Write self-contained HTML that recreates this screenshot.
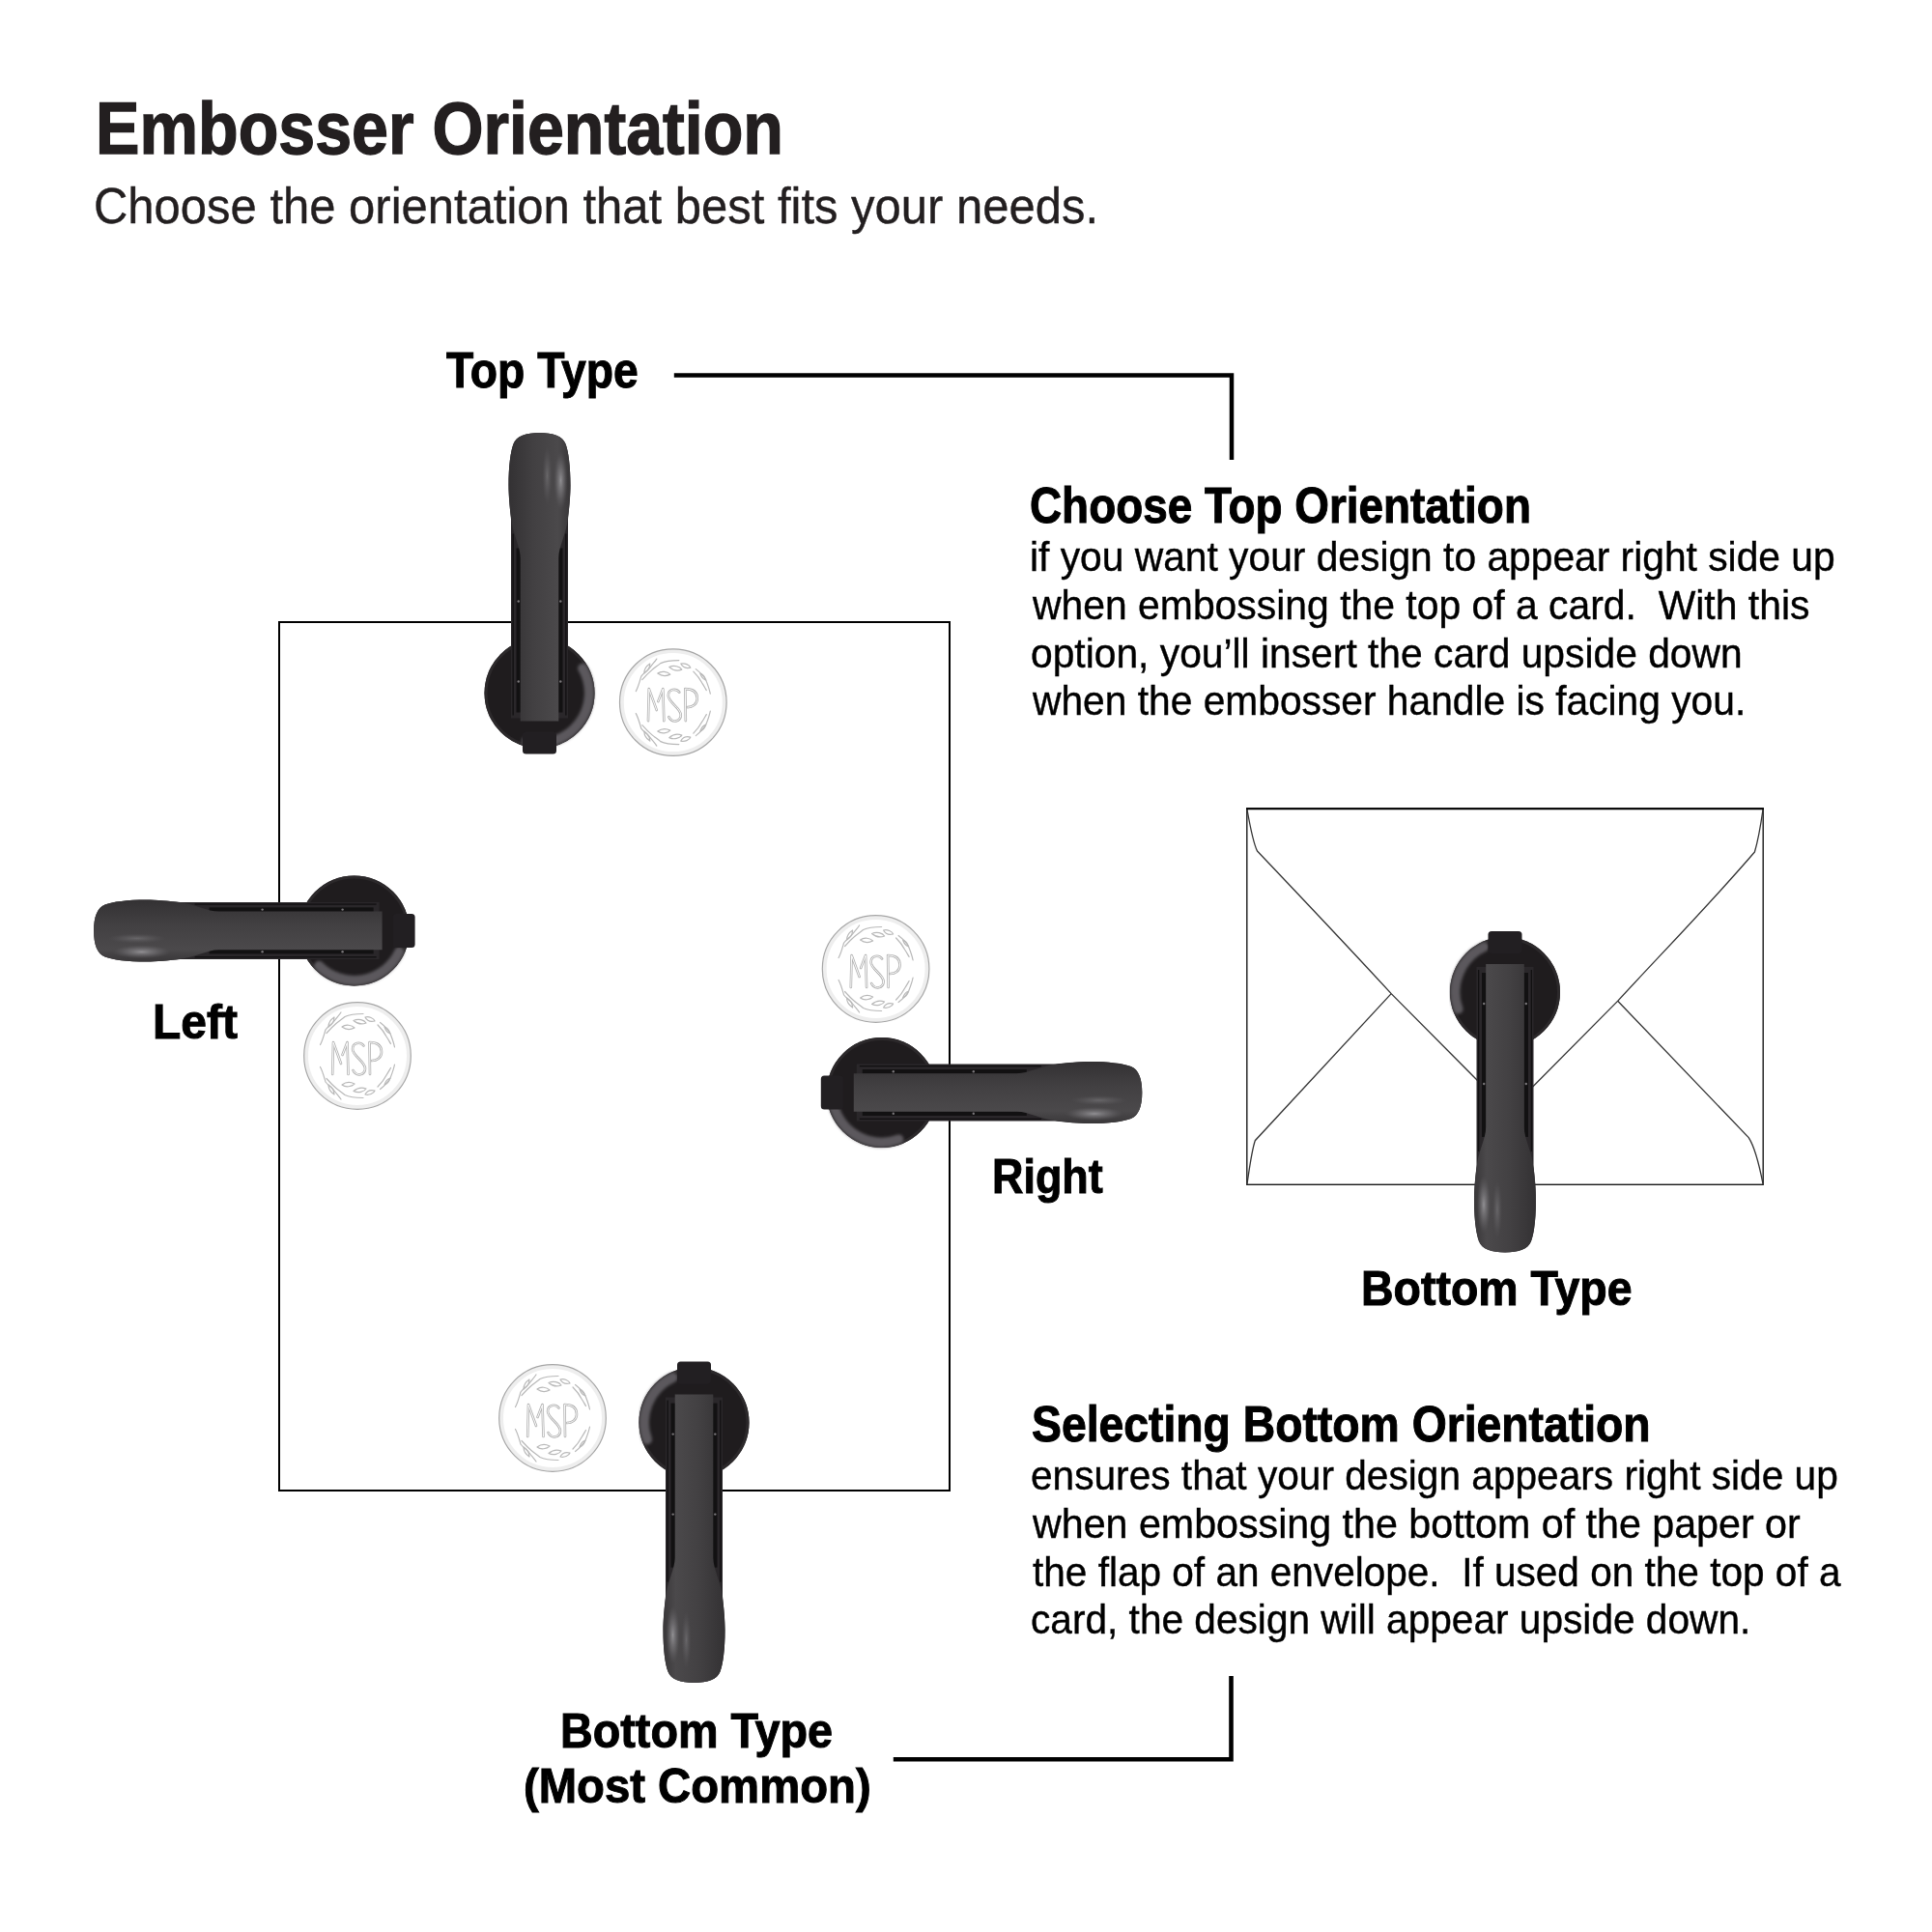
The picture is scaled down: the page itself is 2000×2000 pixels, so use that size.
<!DOCTYPE html>
<html><head><meta charset="utf-8"><style>
html,body{margin:0;padding:0;background:#fff;width:2000px;height:2000px;overflow:hidden}
body{position:relative}
.t{position:absolute;white-space:pre;font-family:"Liberation Sans",sans-serif;transform-origin:0 0}
</style></head><body>

<svg width="2000" height="2000" viewBox="0 0 2000 2000" style="position:absolute;left:0;top:0">
<defs>
<linearGradient id="hg" x1="0" y1="0" x2="1" y2="0">
  <stop offset="0" stop-color="#333133"/>
  <stop offset="0.4" stop-color="#424042"/>
  <stop offset="0.8" stop-color="#4b494b"/>
  <stop offset="1" stop-color="#393739"/>
</linearGradient>
<radialGradient id="hl" cx="0.5" cy="0.5" r="0.5">
  <stop offset="0" stop-color="#b0afb3" stop-opacity="0.7"/>
  <stop offset="0.55" stop-color="#858387" stop-opacity="0.4"/>
  <stop offset="1" stop-color="#6a686c" stop-opacity="0"/>
</radialGradient>
<filter id="soft" x="-20%" y="-20%" width="140%" height="140%"><feGaussianBlur stdDeviation="1.6"/></filter>
<g id="emb">
  <rect x="-17.5" y="40" width="35" height="23" rx="3.5" fill="#221f22"/>
  <path d="M-29.5,26 L-29.5,-180 C-30.5,-190 -32,-205 -32,-215 C-32,-235 -30,-250 -27,-258 C-24,-266 -14,-269.5 0,-269.5 C14,-269.5 24,-266 27,-258 C30,-250 32,-235 32,-215 C32,-205 30.5,-190 29.5,-180 L29.5,26 Z" fill="#2a272a"/>
  <rect x="-24" y="-150" width="4.5" height="170" fill="#121112"/><rect x="-28" y="-165" width="1.3" height="188" fill="#111011"/>
  <rect x="19.5" y="-150" width="4.5" height="170" fill="#121112"/><rect x="26.7" y="-165" width="1.3" height="188" fill="#111011"/>
  <path d="M-19.8,29 L-19.8,-140 C-19.8,-152 -28,-165 -29.5,-182 C-31,-192 -32,-205 -32,-215 C-32,-235 -30,-250 -27,-258 C-24,-266 -14,-269.5 0,-269.5 C14,-269.5 24,-266 27,-258 C30,-250 32,-235 32,-215 C32,-205 31,-192 29.5,-182 C28,-165 19.8,-152 19.8,-140 L19.8,29 Z" fill="url(#hg)"/>
  <ellipse cx="22" cy="-220" rx="7" ry="30" fill="url(#hl)"/>
  <ellipse cx="8" cy="-225" rx="5" ry="30" fill="url(#hl)" opacity="0.45"/>
  <circle cx="-21.8" cy="-95" r="1.2" fill="#7a777a"/>
  <circle cx="21.8" cy="-95" r="1.2" fill="#7a777a"/>
  <circle cx="-21.8" cy="-12" r="1.2" fill="#7a777a"/>
  <circle cx="21.8" cy="-12" r="1.2" fill="#7a777a"/>
</g>

<g id="lt">
  <g fill="none" stroke="#b9b9b9" stroke-width="1.2" stroke-linecap="round" stroke-linejoin="round">
    <path d="M-38.5,-11.5 C-36,-16 -34.5,-22 -33,-27 C-30,-31 -26,-33 -24,-36 C-21,-40 -19,-42 -17,-45"/>
    <path d="M-32,-23.5 C-28,-28 -25,-31 -22,-33.5 C-19,-36 -16,-38 -13,-40.5 C-8,-43 -2,-43.5 6,-43.5"/>
    <path d="M21,-32 C25,-28 28,-24 30,-20 C32,-17 33,-15 34.5,-12.5"/>
    <path d="M23.5,-34.5 C28,-31 32,-27 34,-23 C36,-18 37.5,-14 38.5,-9"/>
    <path d="M-16,-30 C-12,-33 -6,-32 -3,-29 C-7,-27 -12,-27 -16,-30 Z"/>
    <path d="M-4,-36.5 C1,-39 7,-37 9,-34 C4,-32 0,-33 -4,-36.5 Z"/>
    <path d="M8,-40 C12,-41 17,-39 18,-36 C14,-35 10,-36 8,-40 Z"/>
    <path d="M-30,-30 C-30,-34 -27,-38 -24,-40 C-24,-36 -27,-32 -30,-30 Z"/>
    <path d="M28,-30 C31,-29 33,-26 34,-23 C31,-24 29,-27 28,-30 Z"/>
  </g>
</g>
<g id="seal">
  <circle cx="0" cy="0" r="53" fill="none" stroke="#eeeeee" stroke-width="4"/>
  <circle cx="0" cy="0" r="55.3" fill="none" stroke="#a6a6a6" stroke-width="1.2"/>
  <g fill="none" stroke="#b3b3b3" stroke-width="2.6" stroke-linecap="round" stroke-linejoin="round">
    <path d="M-25.8,19 L-25,-14 L-17,8 M-15.5,-1 L-10.5,-14 L-9.5,19"/>
    <path d="M6.5,-10.5 C3,-15 -5,-14 -5,-7 C-5,0 8,6 8,13 C8,20 -1,22 -4.5,15"/>
    <path d="M13,19 L12.5,-14 C21,-14 25,-10 25,-4 C25,2 20,5 15,5"/>
  </g>
  <g fill="none" stroke="#fbfbfb" stroke-width="1" stroke-linecap="round" stroke-linejoin="round">
    <path d="M-25.8,19 L-25,-14 L-17,8 M-15.5,-1 L-10.5,-14 L-9.5,19"/>
    <path d="M6.5,-10.5 C3,-15 -5,-14 -5,-7 C-5,0 8,6 8,13 C8,20 -1,22 -4.5,15"/>
    <path d="M13,19 L12.5,-14 C21,-14 25,-10 25,-4 C25,2 20,5 15,5"/>
  </g>
  <use href="#lt"/>
  <use href="#lt" transform="scale(1,-1)"/>
</g>
</defs>
<path d="M697.8,388.4 H1275 V476" fill="none" stroke="#000" stroke-width="4.5"/>
<path d="M1274.5,1735 V1821.3 H924.8" fill="none" stroke="#000" stroke-width="4.6"/>
<rect x="289" y="644" width="694" height="899" fill="none" stroke="#000" stroke-width="2"/>
<rect x="1290.8" y="837" width="534.4" height="389.3" fill="none" stroke="#1a1a1a" stroke-width="1.4"/>
<line x1="1290" y1="837.2" x2="1826" y2="837.2" stroke="#000" stroke-width="2"/>
<path d="M1291,838 C1294,855 1297,872 1301.5,881 C1350,932 1400,985 1440.2,1028.6 L1528,1117 L1558,1149 L1587.2,1124.5 L1674.8,1036.1 C1720,987 1770,936 1816.4,882 C1820,870 1823,852 1825,838" fill="none" stroke="#333" stroke-width="1.3"/>
<path d="M1291,1225.5 C1294,1205 1296,1190 1299.3,1180.7 L1440.2,1028.6" fill="none" stroke="#333" stroke-width="1.3"/>
<path d="M1825,1225.5 C1821,1205 1817,1188 1810.2,1177.6 L1674.5,1036" fill="none" stroke="#333" stroke-width="1.3"/>
<use href="#seal" transform="translate(696.8,727.1)"/>
<use href="#seal" transform="translate(370,1093)"/>
<use href="#seal" transform="translate(906.6,1003)"/>
<use href="#seal" transform="translate(572,1468)"/>
<g transform="translate(558.5,717.5)"><circle r="57" fill="#1f1c1e"/><circle r="55.5" fill="none" stroke="#2c292b" stroke-width="3"/><path d="M44.6,-25.7 A51.5,51.5 0 0 1 -13.3,49.7" fill="none" stroke="#5c595d" stroke-width="10" stroke-linecap="round" filter="url(#soft)"/></g>
<use href="#emb" transform="translate(558.5,717.5) rotate(0)"/>
<g transform="translate(366.6,963.4)"><circle r="57" fill="#1f1c1e"/><circle r="55.5" fill="none" stroke="#2c292b" stroke-width="3"/><path d="M46.7,21.8 A51.5,51.5 0 0 1 -36.4,36.4" fill="none" stroke="#5c595d" stroke-width="10" stroke-linecap="round" filter="url(#soft)"/></g>
<use href="#emb" transform="translate(366.6,963.4) rotate(-90) scale(-1,1)"/>
<g transform="translate(912.8,1131.0)"><circle r="57" fill="#1f1c1e"/><circle r="55.5" fill="none" stroke="#2c292b" stroke-width="3"/><path d="M17.6,48.4 A51.5,51.5 0 0 1 -49.7,13.3" fill="none" stroke="#5c595d" stroke-width="10" stroke-linecap="round" filter="url(#soft)"/></g>
<use href="#emb" transform="translate(912.8,1131.0) rotate(90)"/>
<g transform="translate(1558.0,1027.0)"><circle r="57" fill="#1f1c1e"/><circle r="55.5" fill="none" stroke="#2c292b" stroke-width="3"/><path d="M-48.4,17.6 A51.5,51.5 0 0 1 -21.8,-46.7" fill="none" stroke="#5c595d" stroke-width="10" stroke-linecap="round" filter="url(#soft)"/></g>
<use href="#emb" transform="translate(1558.0,1027.0) rotate(180)"/>
<g transform="translate(718.5,1472.6)"><circle r="57" fill="#1f1c1e"/><circle r="55.5" fill="none" stroke="#2c292b" stroke-width="3"/><path d="M-48.4,17.6 A51.5,51.5 0 0 1 -21.8,-46.7" fill="none" stroke="#5c595d" stroke-width="10" stroke-linecap="round" filter="url(#soft)"/></g>
<use href="#emb" transform="translate(718.5,1472.6) rotate(180)"/>
</svg>

<div class="t" style="left:98.61px;top:94.60px;font-size:76px;line-height:76px;font-weight:700;color:#231f20;transform:scaleX(0.8967);-webkit-text-stroke:1.4px #231f20">Embosser Orientation</div>
<div class="t" style="left:97.43px;top:187.05px;font-size:52.5px;line-height:52.5px;font-weight:400;color:#231f20;transform:scaleX(0.9329);-webkit-text-stroke:0.4px #231f20">Choose the orientation that best fits your needs.</div>
<div class="t" style="left:461.70px;top:358.35px;font-size:51.5px;line-height:51.5px;font-weight:700;color:#000;transform:scaleX(0.8982);-webkit-text-stroke:1.0px #000">Top Type</div>
<div class="t" style="left:1066.12px;top:498.25px;font-size:51.5px;line-height:51.5px;font-weight:700;color:#000;transform:scaleX(0.8905);-webkit-text-stroke:1.0px #000">Choose Top Orientation</div>
<div class="t" style="left:1065.72px;top:556.45px;font-size:42.5px;line-height:42.5px;font-weight:400;color:#000;transform:scaleX(0.9588);-webkit-text-stroke:0.4px #000">if you want your design to appear right side up</div>
<div class="t" style="left:1068.60px;top:606.15px;font-size:42.5px;line-height:42.5px;font-weight:400;color:#000;transform:scaleX(0.9619);-webkit-text-stroke:0.4px #000">when embossing the top of a card.  With this</div>
<div class="t" style="left:1066.68px;top:655.65px;font-size:42.5px;line-height:42.5px;font-weight:400;color:#000;transform:scaleX(0.9594);-webkit-text-stroke:0.4px #000">option, you’ll insert the card upside down</div>
<div class="t" style="left:1068.60px;top:705.45px;font-size:42.5px;line-height:42.5px;font-weight:400;color:#000;transform:scaleX(0.9585);-webkit-text-stroke:0.4px #000">when the embosser handle is facing you.</div>
<div class="t" style="left:157.65px;top:1032.95px;font-size:50.5px;line-height:50.5px;font-weight:700;color:#000;transform:scaleX(0.9494);-webkit-text-stroke:1.0px #000">Left</div>
<div class="t" style="left:1027.33px;top:1192.95px;font-size:50.5px;line-height:50.5px;font-weight:700;color:#000;transform:scaleX(0.8889);-webkit-text-stroke:1.0px #000">Right</div>
<div class="t" style="left:1409.34px;top:1309.25px;font-size:50.5px;line-height:50.5px;font-weight:700;color:#000;transform:scaleX(0.9203);-webkit-text-stroke:1.0px #000">Bottom Type</div>
<div class="t" style="left:1067.90px;top:1449.25px;font-size:51.5px;line-height:51.5px;font-weight:700;color:#000;transform:scaleX(0.8992);-webkit-text-stroke:1.0px #000">Selecting Bottom Orientation</div>
<div class="t" style="left:1067.19px;top:1506.95px;font-size:42.5px;line-height:42.5px;font-weight:400;color:#000;transform:scaleX(0.9561);-webkit-text-stroke:0.4px #000">ensures that your design appears right side up</div>
<div class="t" style="left:1068.60px;top:1556.55px;font-size:42.5px;line-height:42.5px;font-weight:400;color:#000;transform:scaleX(0.9694);-webkit-text-stroke:0.4px #000">when embossing the bottom of the paper or</div>
<div class="t" style="left:1068.60px;top:1606.85px;font-size:42.5px;line-height:42.5px;font-weight:400;color:#000;transform:scaleX(0.9542);-webkit-text-stroke:0.4px #000">the flap of an envelope.  If used on the top of a</div>
<div class="t" style="left:1066.69px;top:1655.75px;font-size:42.5px;line-height:42.5px;font-weight:400;color:#000;transform:scaleX(0.9559);-webkit-text-stroke:0.4px #000">card, the design will appear upside down.</div>
<div class="t" style="left:579.97px;top:1767.45px;font-size:49.5px;line-height:49.5px;font-weight:700;color:#000;transform:scaleX(0.9441);-webkit-text-stroke:1.0px #000">Bottom Type</div>
<div class="t" style="left:541.59px;top:1824.35px;font-size:49.5px;line-height:49.5px;font-weight:700;color:#000;transform:scaleX(0.9547);-webkit-text-stroke:1.0px #000">(Most Common)</div>
</body></html>
